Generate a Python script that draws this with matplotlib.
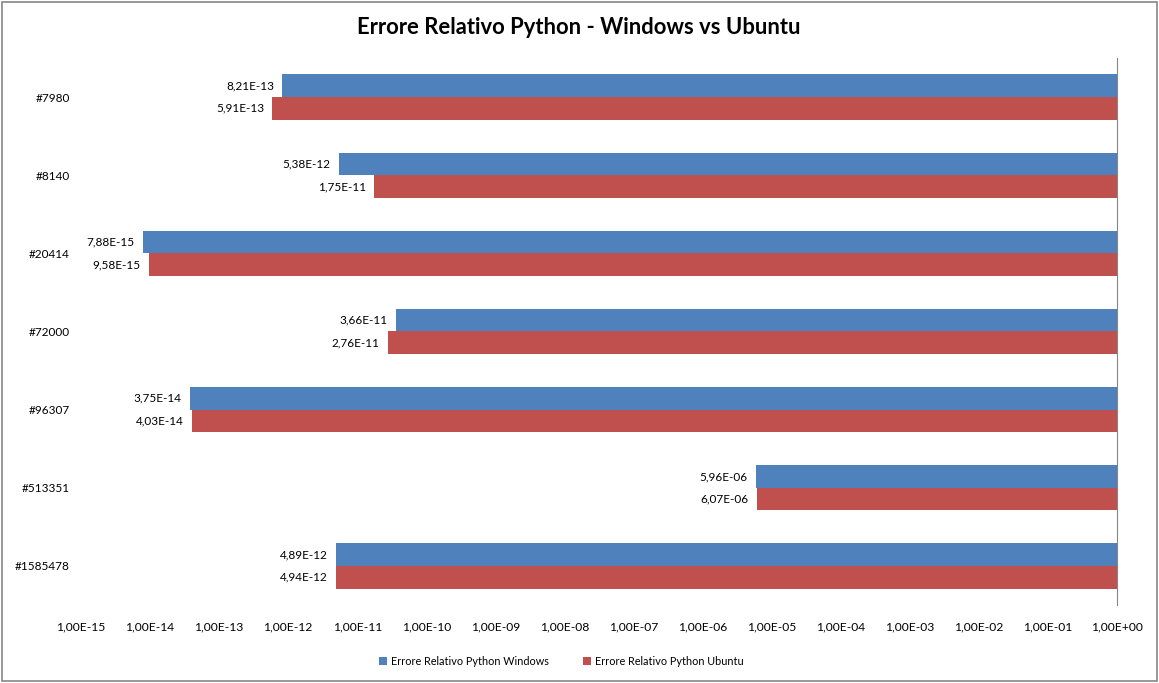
import matplotlib
matplotlib.use("Agg")
import matplotlib.pyplot as plt
from matplotlib.ticker import NullLocator
import numpy as np

plt.rcParams['font.family'] = ['Lato', 'DejaVu Sans']

# data
categories = ['#7980', '#8140', '#20414', '#72000', '#96307', '#513351', '#1585478']
err_windows = [8.21e-13, 5.38e-12, 7.88e-15, 3.66e-11, 3.75e-14, 5.96e-06, 4.89e-12]
err_ubuntu = [5.91e-13, 1.75e-11, 9.58e-15, 2.76e-11, 4.03e-14, 6.07e-06, 4.94e-12]
exponents = list(range(-15, 1))

blue = '#4F81BD'
red = '#C0504D'


def sci_it(v):
    # Excel style with decimal comma
    return f"{v:.2E}".replace('.', ',')


fig = plt.figure(figsize=(11.59, 6.83), dpi=100)
ax = fig.add_axes([0.0699, 0.1142, 0.8938, 0.8009])

y = np.arange(len(categories))
h = 0.29
win = np.array(err_windows)
ubu = np.array(err_ubuntu)

ax.set_xscale('log')
ax.barh(y - h / 2, 1 - win, left=win, height=h, color=blue, label='Errore Relativo Python Windows')
ax.barh(y + h / 2, 1 - ubu, left=ubu, height=h, color=red, label='Errore Relativo Python Ubuntu')

for yy, v in zip(y - h / 2, win):
    ax.annotate(sci_it(v), xy=(v, yy), xytext=(-6, 0), textcoords='offset points',
                ha='right', va='center', fontsize=8.5)
for yy, v in zip(y + h / 2, ubu):
    ax.annotate(sci_it(v), xy=(v, yy), xytext=(-6, 0), textcoords='offset points',
                ha='right', va='center', fontsize=8.5)

ax.set_xlim(1e-15, 1)
ax.set_ylim(len(categories) - 0.5, -0.5)
ax.set_xticks([10.0 ** k for k in exponents])
ax.set_xticklabels([sci_it(10.0 ** k) for k in exponents])
ax.xaxis.set_minor_locator(NullLocator())
ax.set_yticks(y)
ax.set_yticklabels(categories)
ax.tick_params(axis='x', length=0, pad=12, labelsize=8.7)
ax.tick_params(axis='y', length=0, pad=8, labelsize=8.5)

for s in ['top', 'left', 'bottom']:
    ax.spines[s].set_visible(False)
ax.spines['right'].set_color('#868686')

fig.text(0.4996, 0.960, 'Errore Relativo Python - Windows vs Ubuntu',
         ha='center', va='center', fontsize=15.8, fontweight='bold')

fig.legend(loc='center', bbox_to_anchor=(0.4845, 0.032), ncol=2, frameon=False,
           fontsize=7.8, handlelength=0.7, handleheight=0.7, columnspacing=3.2,
           handletextpad=0.4)

# chart border
fig.patches.append(plt.Rectangle((0.002, 0.003), 0.996, 0.994, transform=fig.transFigure,
                                 fill=False, edgecolor='#868686', linewidth=1.2))

fig.savefig('out.png', dpi=100)
